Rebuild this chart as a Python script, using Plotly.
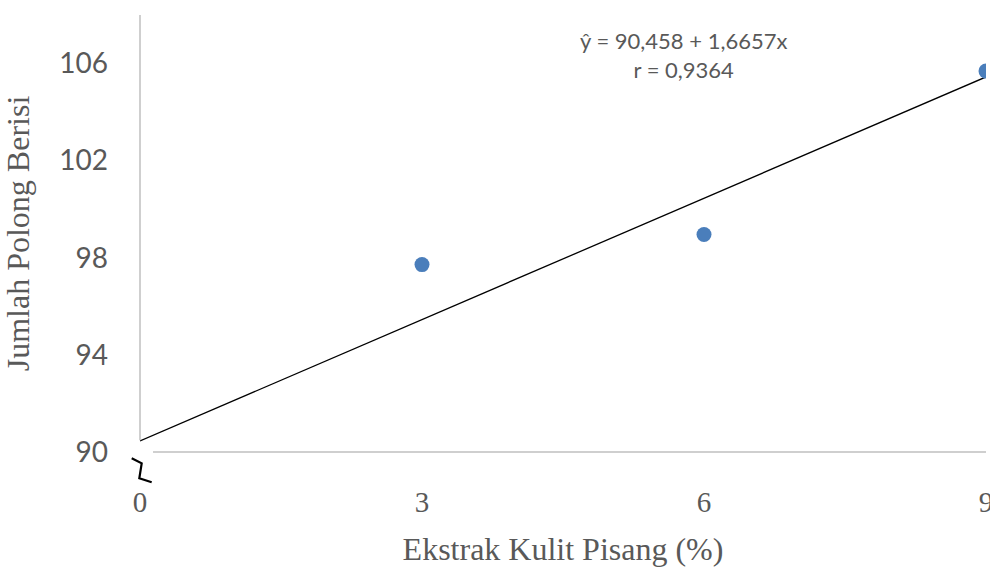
import plotly.graph_objects as go

# Observed pod counts per banana-peel extract concentration
konsentrasi = [3, 6, 9]
polong_berisi = [97.72, 98.96, 105.69]

# Fitted regression: y = a + b x
intercept = 90.458
slope = 1.6657
x_garis = [0, 9]
y_garis = [intercept + slope * x for x in x_garis]

x_ticks = [0, 3, 6, 9]
y_ticks = [90, 94, 98, 102, 106]

GRAY_TXT = "#595959"
AXIS_GRAY = "#BFBFBF"

fig = go.Figure()

fig.add_trace(go.Scatter(
    x=x_garis, y=y_garis, mode="lines",
    line=dict(color="black", width=1.3),
    hoverinfo="skip", showlegend=False,
))

fig.add_trace(go.Scatter(
    x=konsentrasi, y=polong_berisi, mode="markers",
    marker=dict(color="#4A7EBB", size=15, line=dict(width=0)),
    showlegend=False,
))

# Axis lines drawn manually so the origin can show a broken-axis gap
fig.add_shape(type="line", xref="paper", yref="paper",
              x0=0, x1=0, y0=0.027, y1=1,
              line=dict(color=AXIS_GRAY, width=1.5))
fig.add_shape(type="line", xref="paper", yref="paper",
              x0=0.0154, x1=1, y0=0, y1=0,
              line=dict(color=AXIS_GRAY, width=1.5))
# Zig-zag break marker
fig.add_shape(type="path", xref="paper", yref="paper",
              path="M -0.0098,-0.0144 L 0.0020,-0.0259 L -0.0008,-0.0602 L 0.0138,-0.0693",
              line=dict(color="black", width=2.2))

fig.add_annotation(
    xref="paper", yref="paper", x=0.642, y=0.908,
    text="ŷ = 90,458 + 1,6657x<br>r = 0,9364",
    showarrow=False, align="center", xanchor="center", yanchor="middle",
    font=dict(family="Lato", size=22, color=GRAY_TXT),
)

fig.update_layout(
    width=990, height=572,
    margin=dict(l=140, r=4, t=15, b=120, autoexpand=False),
    plot_bgcolor="white", paper_bgcolor="white",
    xaxis=dict(
        range=[0, 9], tickvals=x_ticks, ticktext=[str(v) for v in x_ticks],
        showgrid=False, zeroline=False, showline=False, ticks="",
        automargin=False,
        ticklabelstandoff=30, ticklabeloverflow="allow",
        tickfont=dict(family="Liberation Serif", size=29, color=GRAY_TXT),
        title=dict(text="Ekstrak Kulit Pisang (%)", standoff=20,
                   font=dict(family="Liberation Serif", size=32, color=GRAY_TXT)),
    ),
    yaxis=dict(
        range=[90, 108], tickvals=y_ticks, ticktext=[str(v) for v in y_ticks],
        showgrid=False, zeroline=False, showline=False, ticks="",
        automargin=False,
        ticklabelstandoff=31,
        tickfont=dict(family="Lato", size=28, color=GRAY_TXT),
        title=dict(text="Jumlah Polong Berisi", standoff=24,
                   font=dict(family="Liberation Serif", size=32, color=GRAY_TXT)),
    ),
)

fig.write_html("out.html")
